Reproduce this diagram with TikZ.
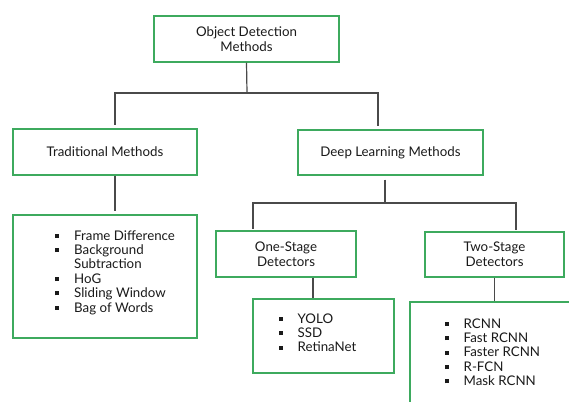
\documentclass[tikz,border=0pt]{standalone}
\usepackage{fontspec}
\setmainfont{Lato}
\definecolor{boxgreen}{HTML}{3DAA5E}
\definecolor{linegray}{HTML}{4A4A4A}
\definecolor{txt}{HTML}{1A1A1A}
\newcommand{\sqb}{\rule[2.2pt]{4pt}{4pt}}
\tikzset{
  box/.style={draw=boxgreen, line width=1.4pt, fill=white, inner sep=0pt, align=center,
              text=txt, font=\fontsize{13.3}{15}\selectfont},
  conn/.style={draw=linegray, line width=1.2pt},
  lst/.style={inner sep=0pt, anchor=base west, text=txt, font=\fontsize{13.3}{14.4}\selectfont}
}
\begin{document}
\begin{tikzpicture}[x=1pt,y=-1pt]
\clip (0,0) rectangle (569,401);
\fill[white] (0,0) rectangle (569,401);
% boxes
\node[box, minimum width=185pt, minimum height=46pt] (top) at (246.5,39) {Object Detection\\Methods};
\node[box, minimum width=184pt, minimum height=46pt] (trad) at (105,152) {Traditional Methods};
\node[box, minimum width=185pt, minimum height=45pt] (dl) at (390.5,152.5) {Deep Learning Methods};
\node[box, minimum width=140pt, minimum height=46pt] (one) at (286,254) {One-Stage\\Detectors};
\node[box, minimum width=139pt, minimum height=45pt] (two) at (494.5,254.5) {Two-Stage\\Detectors};
\node[box, minimum width=184pt, minimum height=123pt] (fbox) at (105,276.5) {};
\node[box, minimum width=141pt, minimum height=74pt] (ybox) at (323.5,336) {};
\node[box, minimum width=170pt, minimum height=130pt] (rbox) at (495,367) {};
% lists
\node[lst] (flist) at (55,240) {\begin{tabular}[t]{@{}l@{\hspace{15pt}}l@{}}
\sqb & Frame Difference\\
\sqb & Background\\
 & Subtraction\\
\sqb & HoG\\
\sqb & Sliding Window\\
\sqb & Bag of Words
\end{tabular}};
\node[lst] (ylist) at (279,323) {\begin{tabular}[t]{@{}l@{\hspace{14.5pt}}l@{}}
\sqb & YOLO\\
\sqb & SSD\\
\sqb & RetinaNet
\end{tabular}};
\node[lst] (rlist) at (445,328) {\begin{tabular}[t]{@{}l@{\hspace{14.5pt}}l@{}}
\sqb & RCNN\\
\sqb & Fast RCNN\\
\sqb & Faster RCNN\\
\sqb & R-FCN\\
\sqb & Mask RCNN
\end{tabular}};
% connectors
\coordinate (j1) at (247,93);
\coordinate (j2) at (385,203);
\draw[conn] (top.south) -- (j1);
\draw[conn, shorten >=3pt] (j1) -| ([xshift=10pt]trad.north);
\draw[conn, shorten >=3pt] (j1) -| ([xshift=-12.5pt]dl.north);
\draw[conn, shorten >=3pt] ([xshift=10pt]trad.south) -- ([xshift=10pt]fbox.north);
\draw[conn, shorten <=4pt] ([xshift=-5.5pt]dl.south) -- (j2);
\draw[conn, shorten >=1pt] (j2) -| ([xshift=-33pt]one.north);
\draw[conn, shorten >=1pt] (j2) -| ([xshift=21.5pt]two.north);
\draw[conn] ([xshift=27pt]one.south) -- ([xshift=-10.5pt]ybox.north);
\draw[conn] (two.south) -- (two.south |- rbox.north);
\end{tikzpicture}
\end{document}
